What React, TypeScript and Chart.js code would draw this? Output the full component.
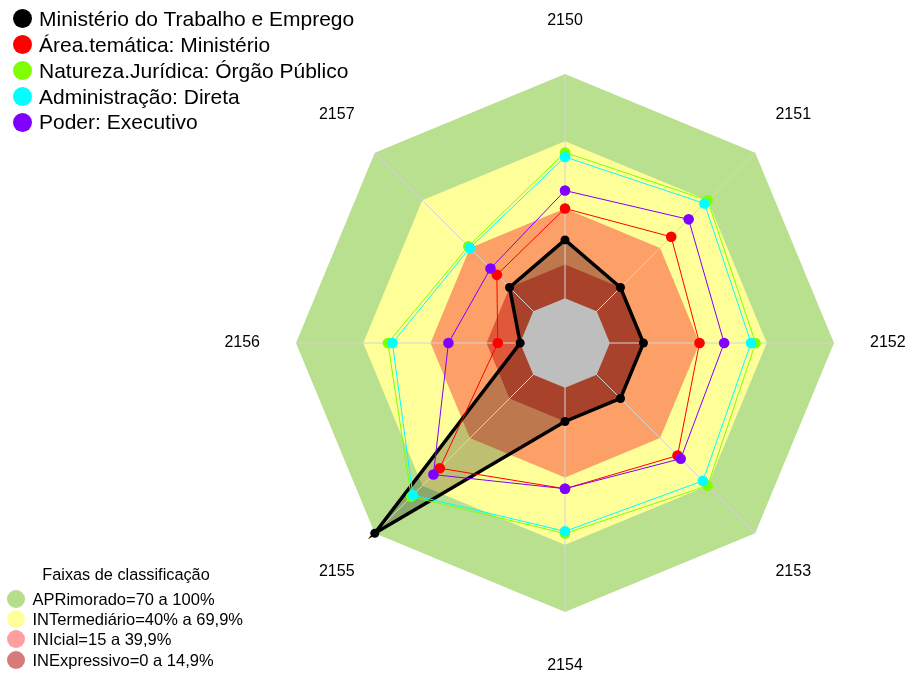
import React, { useEffect, useRef } from "react";
import { Chart, registerables } from "chart.js";

Chart.register(...registerables);

// ---- data ----
const categories = ["2150", "2151", "2152", "2153", "2154", "2155", "2156", "2157"];

const seriesNames = [
  "Ministério do Trabalho e Emprego",
  "Área.temática: Ministério",
  "Natureza.Jurídica: Órgão Público",
  "Administração: Direta",
  "Poder: Executivo",
];
const seriesColors = ["#000000", "#FF0000", "#7FFF00", "#00FFFF", "#8000FF"];

const ministerio = [26, 15, 15, 15, 15, 100, 0, 15];
const areaTematica = [40, 47, 40, 51, 45, 59, 10, 23];
const naturezaJuridica = [65, 70, 65, 70, 65, 77, 59, 41];
const administracao = [63, 68, 63, 67, 64, 76, 57, 40];
const poder = [48, 58, 51, 53, 45, 63, 32, 27];
const seriesValues = [ministerio, areaTematica, naturezaJuridica, administracao, poder];

const bandTitle = "Faixas de classificação";
const bandNames = [
  "APRimorado=70 a 100%",
  "INTermediário=40% a 69,9%",
  "INIcial=15 a 39,9%",
  "INExpressivo=0 a 14,9%",
];
const bandUpper = [100, 70, 40, 15];
const bandColors = ["#B9E08F", "#FFFF99", "#FCA067", "#E0583A"];
const bandLegendColors = ["#B5DD8C", "#FFFF9A", "#FF9E9E", "#D67B7B"];
const holeValue = 0;
const holeColor = "#BEBEBE";
const scaleMin = -20;
const scaleMax = 100;

const FONT = '"Liberation Sans", Arial, sans-serif';

const holePlugin = {
  id: "holePlugin",
  beforeDatasetsDraw(chart: any) {
    const scale = chart.scales.r;
    const ctx = chart.ctx;
    ctx.save();
    ctx.beginPath();
    categories.forEach((_, i) => {
      const p = scale.getPointPositionForValue(i, holeValue);
      if (i === 0) ctx.moveTo(p.x, p.y);
      else ctx.lineTo(p.x, p.y);
    });
    ctx.closePath();
    ctx.fillStyle = holeColor;
    ctx.fill();
    ctx.restore();
  },
};

const labelPlugin = {
  id: "labelPlugin",
  afterDraw(chart: any) {
    const scale = chart.scales.r;
    const ctx = chart.ctx;
    ctx.save();
    ctx.font = "16px " + FONT;
    ctx.fillStyle = "#000000";
    ctx.textAlign = "center";
    ctx.textBaseline = "middle";
    const labels = chart.data.labels as string[];
    labels.forEach((lab, i) => {
      const p = scale.getPointPosition(i, scale.drawingArea * 1.2);
      ctx.fillText(lab, p.x, p.y);
    });
    ctx.restore();
  },
};

export default function App() {
  const ref = useRef<HTMLCanvasElement>(null);

  useEffect(() => {
    if (!ref.current) return;
    const bandSets = bandUpper.map((u, i) => ({
      label: bandNames[i],
      data: categories.map(() => u),
      backgroundColor: bandColors[i],
      borderColor: "rgba(0,0,0,0)",
      borderWidth: 1,
      pointRadius: 0,
      pointHoverRadius: 0,
      fill: "start",
      order: 20 - i,
    }));
    const seriesSets = seriesValues.map((vals, i) => ({
      label: seriesNames[i],
      data: vals,
      borderColor: seriesColors[i],
      backgroundColor: i === 0 ? "rgba(0,0,0,0.25)" : seriesColors[i],
      pointBackgroundColor: seriesColors[i],
      pointBorderColor: seriesColors[i],
      pointBorderWidth: 0,
      pointRadius: i === 0 ? 4.5 : 5.3,
      borderWidth: i === 0 ? 3.5 : 1,
      fill: i === 0 ? "start" : false,
      order: 5 - i,
    }));
    const chart = new Chart(ref.current, {
      type: "radar",
      data: {
        labels: categories,
        datasets: [...seriesSets, ...bandSets] as any,
      },
      options: {
        responsive: false,
        animation: false,
        layout: { padding: { left: 296, right: 73, top: 74, bottom: 63 } },
        elements: { line: { tension: 0 } },
        scales: {
          r: {
            min: scaleMin,
            max: scaleMax,
            ticks: { display: false, stepSize: 20 },
            grid: { display: false },
            angleLines: { display: true, color: "#D4D4D4", lineWidth: 1 },
            pointLabels: { display: false },
          },
        },
        plugins: {
          legend: { display: false },
          tooltip: { enabled: false },
          filler: { drawTime: "beforeDraw" },
        } as any,
      },
      plugins: [holePlugin, labelPlugin],
    });
    return () => chart.destroy();
  }, []);

  const topRows = [18.5, 44.5, 70.5, 96.5, 122.3];
  const bandRows = [598.7, 619, 639.3, 659.6];

  return (
    <div style={{ position: "fixed", left: 0, top: 0, width: 907, height: 675, background: "#fff", fontFamily: FONT }}>
      <canvas ref={ref} width={907} height={675} style={{ position: "absolute", left: 0, top: 0 }} />
      {seriesNames.map((n, i) => (
        <div key={n}>
          <div style={{ position: "absolute", left: 12.5, top: topRows[i] - 9.5, width: 19, height: 19, borderRadius: "50%", background: seriesColors[i] }} />
          <div style={{ position: "absolute", left: 39, top: topRows[i] - 13, height: 26, lineHeight: "26px", fontSize: 21, color: "#000", whiteSpace: "nowrap" }}>{n}</div>
        </div>
      ))}
      <div style={{ position: "absolute", left: 26, width: 200, top: 563, height: 22, lineHeight: "22px", fontSize: 16.3, textAlign: "center", color: "#000", whiteSpace: "nowrap" }}>{bandTitle}</div>
      {bandNames.map((n, i) => (
        <div key={n}>
          <div style={{ position: "absolute", left: 7, top: bandRows[i] - 9, width: 18, height: 18, borderRadius: "50%", background: bandLegendColors[i] }} />
          <div style={{ position: "absolute", left: 32.5, top: bandRows[i] - 10, height: 20, lineHeight: "20px", fontSize: 16.5, color: "#000", whiteSpace: "nowrap" }}>{n}</div>
        </div>
      ))}
    </div>
  );
}
